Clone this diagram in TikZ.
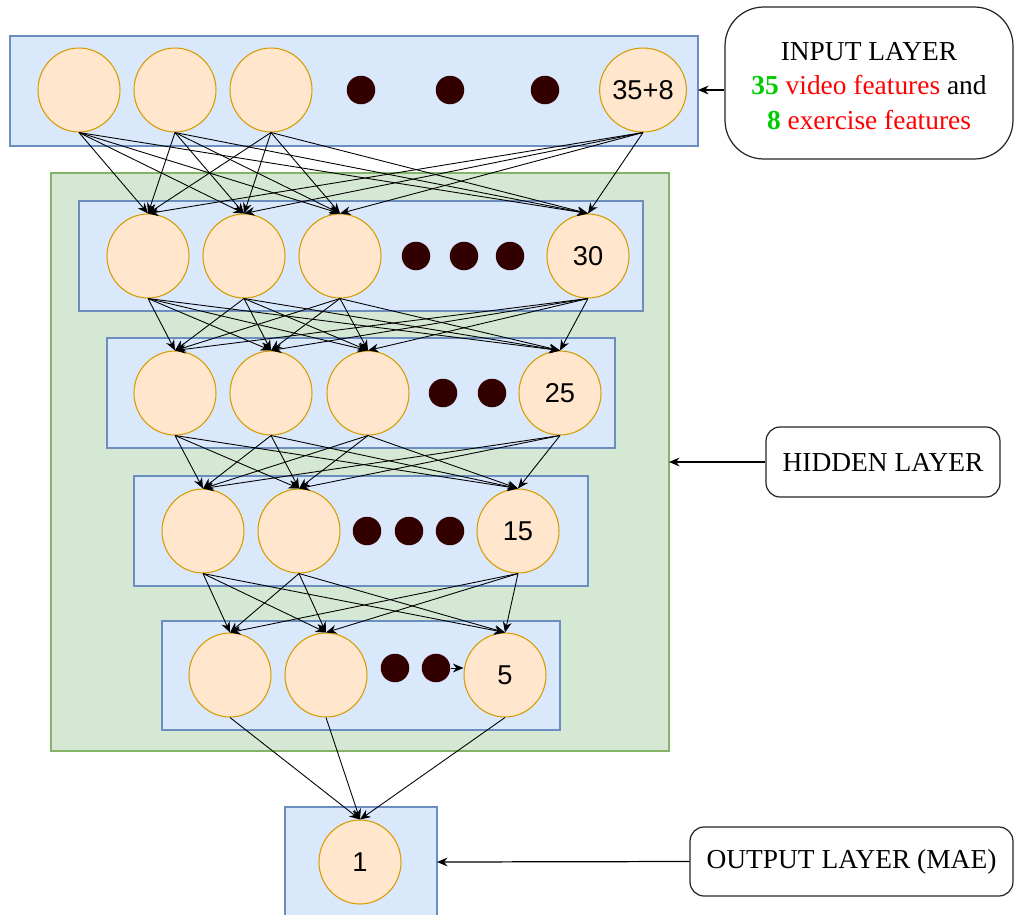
\documentclass[tikz,border=0pt]{standalone}
\usepackage{fontspec}
\setmainfont{Liberation Serif}
\newfontfamily\numfont{Liberation Sans}
\usetikzlibrary{shapes.geometric,arrows.meta}
\definecolor{layerfill}{HTML}{DAE8FC}
\definecolor{layerdraw}{HTML}{6C8EBF}
\definecolor{hidfill}{HTML}{D5E8D4}
\definecolor{hiddraw}{HTML}{82B366}
\definecolor{neufill}{HTML}{FFE6CC}
\definecolor{neudraw}{HTML}{D79B00}
\definecolor{dotcol}{HTML}{330000}
\definecolor{txtgreen}{HTML}{00CC00}
\definecolor{txtred}{HTML}{FF0000}
\tikzset{
  layerbox/.style={fill=layerfill,draw=layerdraw,line width=0.6pt},
  hidbox/.style={fill=hidfill,draw=hiddraw,line width=0.6pt},
  neuron/.style={ellipse,fill=neufill,draw=neudraw,line width=0.6pt,minimum width=1.64cm,minimum height=1.68cm,inner sep=0pt,font=\numfont\fontsize{15.5}{18}\selectfont},
  dotnode/.style={circle,fill=dotcol,draw=none,minimum size=0.57cm,inner sep=0pt},
  edge/.style={-{Stealth[length=6pt,width=5pt]},line width=0.5pt,black},
  labelbox/.style={draw=black!85,line width=0.7pt,fill=white,align=center,font=\fontsize{15.6}{19.5}\selectfont,inner sep=0pt},
  labelarrow/.style={-{Stealth[length=6pt,width=5pt]},line width=0.7pt,black}
}
\begin{document}
\begin{tikzpicture}[x=0.02cm,y=-0.02cm]
\useasboundingbox (0,0) rectangle (1015,914);
\clip (0,0) rectangle (1015,914);
% containers
\draw[layerbox] (10,36) rectangle (698,146);
\draw[hidbox] (51,173) rectangle (669,751);
\draw[layerbox] (79,201) rectangle (643,311);
\draw[layerbox] (107,338) rectangle (615,448);
\draw[layerbox] (134,476) rectangle (588,586);
\draw[layerbox] (162,621) rectangle (560,730);
\draw[layerbox] (285,807) rectangle (437,930);
\coordinate (inR) at (698,90);
\coordinate (hidR) at (669,462);
\coordinate (outR) at (437,862);
% input layer
\node[neuron] (i1) at (79,90) {};
\node[neuron] (i2) at (175,90) {};
\node[neuron] (i3) at (271,90) {};
\node[dotnode] (id1) at (361,90) {};
\node[dotnode] (id2) at (450,90) {};
\node[dotnode] (id3) at (545,90) {};
\node[neuron] (i4) at (643,90) {35+8};
% hidden 1
\node[neuron] (a1) at (148,256) {};
\node[neuron] (a2) at (244,256) {};
\node[neuron] (a3) at (340,256) {};
\node[dotnode] (ad1) at (416,256) {};
\node[dotnode] (ad2) at (464,256) {};
\node[dotnode] (ad3) at (510,256) {};
\node[neuron] (a4) at (588,256) {30};
% hidden 2
\node[neuron] (b1) at (175,393) {};
\node[neuron] (b2) at (271,393) {};
\node[neuron] (b3) at (368,393) {};
\node[dotnode] (bd1) at (443,393) {};
\node[dotnode] (bd2) at (492,393) {};
\node[neuron] (b4) at (560,393) {25};
% hidden 3
\node[neuron] (c1) at (203,531) {};
\node[neuron] (c2) at (299,531) {};
\node[dotnode] (cd1) at (367,531) {};
\node[dotnode] (cd2) at (409,531) {};
\node[dotnode] (cd3) at (450,531) {};
\node[neuron] (c3) at (518,531) {15};
% hidden 4
\node[neuron] (d1) at (230,675) {};
\node[neuron] (d2) at (326,675) {};
\node[dotnode] (dd1) at (395,668) {};
\node[dotnode] (dd2) at (436,668) {};
\node[neuron] (d3) at (505,675) {5};
% output
\node[neuron] (o1) at (360,862) {1};
% connections
\foreach \s in {i1,i2,i3,i4}{\foreach \t in {a1,a2,a3,a4}{\draw[edge] (\s.south) -- (\t.north);}}
\foreach \s in {a1,a2,a3,a4}{\foreach \t in {b1,b2,b3,b4}{\draw[edge] (\s.south) -- (\t.north);}}
\foreach \s in {b1,b2,b3,b4}{\foreach \t in {c1,c2,c3}{\draw[edge] (\s.south) -- (\t.north);}}
\foreach \s in {c1,c2,c3}{\foreach \t in {d1,d2,d3}{\draw[edge] (\s.south) -- (\t.north);}}
\foreach \s in {d1,d2,d3}{\draw[edge] (\s.south) -- (o1.north);}
\draw[edge] (dd2.east) -- (d3.west |- dd2.east);
% labels
\node[labelbox,rounded corners=22pt,minimum width=5.76cm,minimum height=3.04cm] (lin) at (869,83) {};
\node[align=center,font=\fontsize{15.6}{19.5}\selectfont,inner sep=0pt] (lintext) at (869,86)
  {INPUT LAYER\\{\color{txtgreen}\textbf{35}} {\color{txtred}video features} and\\{\color{txtgreen}\textbf{8}} {\color{txtred}exercise features}};
\node[labelbox,rounded corners=8pt,minimum width=4.68cm,minimum height=1.40cm] (lhid) at (883,462) {HIDDEN LAYER};
\node[labelbox,rounded corners=8pt,minimum width=6.46cm,minimum height=1.38cm] (lout) at (851.5,861.5) {OUTPUT LAYER (MAE)};
\draw[labelarrow] (lin.west |- inR) -- (inR);
\draw[labelarrow] (lhid.west) -- (hidR);
\draw[labelarrow] (lout.west) -- (outR);
\end{tikzpicture}
\end{document}
